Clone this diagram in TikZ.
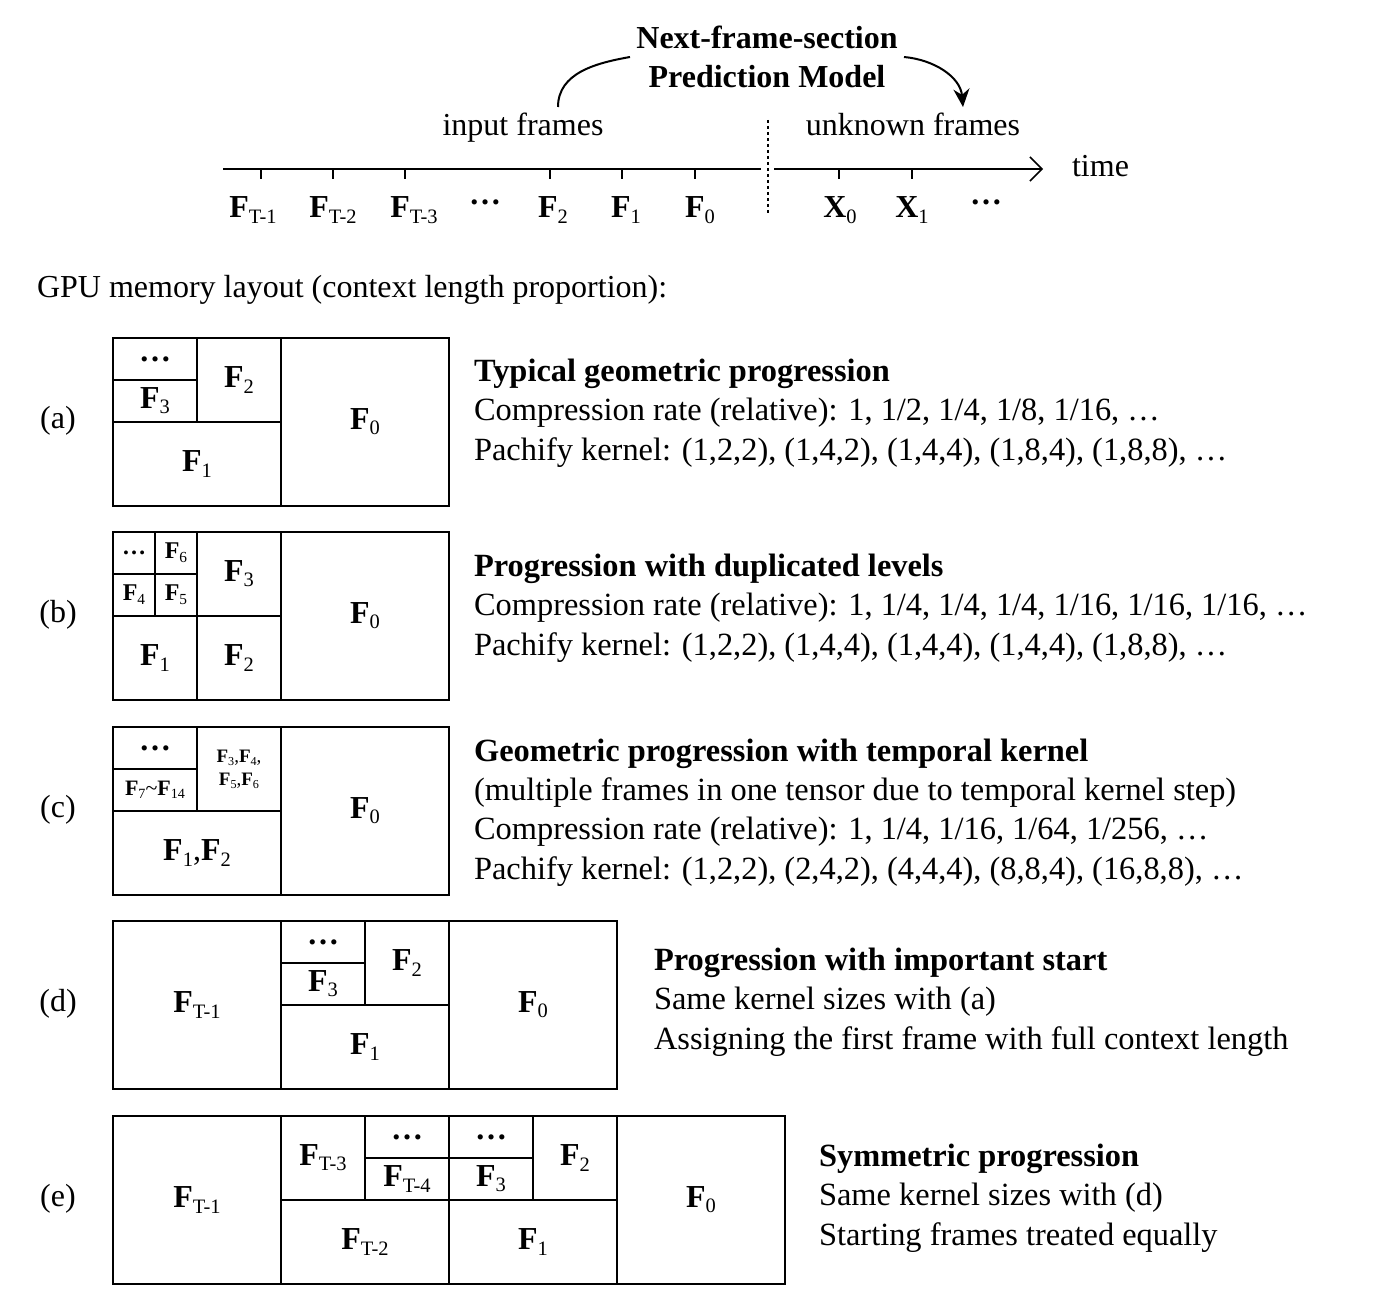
\documentclass[tikz,border=0pt]{standalone}
\usepackage{fontspec}
\setmainfont{Liberation Serif}
\usetikzlibrary{arrows.meta}
\newcommand{\fr}[2][F]{\textbf{#1}\raisebox{-0.16em}{\scalebox{0.64}{#2}}}

\begin{document}
\begin{tikzpicture}[x=0.5pt, y=-0.5pt,
  every node/.style={font=\fontsize{16}{19.5}\selectfont},
  cell/.style 2 args={draw, line width=1pt, anchor=north west, inner sep=0pt,
                      minimum width=#1*42pt, minimum height=#2*42pt},
  small/.style={font=\fontsize{12}{13}\selectfont},
  tiny/.style={font=\fontsize{9.5}{11.5}\selectfont},
  txt/.style={anchor=base west, align=left, font=\fontsize{16.2}{19.6}\selectfont},
  tick/.style={line width=0.75pt},
  arr/.style={line width=1pt, -{Stealth[length=9pt,width=8pt]}}
]
\useasboundingbox (0,0) rectangle (1380,1294);

% time axis
\coordinate (t0) at (223,169);
\coordinate (t1) at (761,169);
\coordinate (t2) at (774,169);
\coordinate (t3) at (1043,169);
\coordinate (d0) at (768,120);
\coordinate (d1) at (768,213);
\draw[tick] (t0) -- (t1);
\draw[tick, -{Straight Barb[length=6pt,width=12pt]}] (t2) -- (t3);
\draw[tick, dash pattern=on 1.5pt off 1.5pt] (d0) -- (d1);
\foreach \x in {261,333,405,550,622,695,839,912}
  \draw[tick] (\x,169) -- (\x,179);

\node[anchor=base] (ft1) at (253,218) {\fr{T-1}};
\node[anchor=base] (ft2) at (333,218) {\fr{T-2}};
\node[anchor=base] (ft3) at (414,218) {\fr{T-3}};
\node (fdots) at (485,202) {\textbf{…}};
\node[anchor=base] (f2) at (553,218) {\fr{2}};
\node[anchor=base] (f1) at (626,218) {\fr{1}};
\node[anchor=base] (f0) at (700,218) {\fr{0}};
\node[anchor=base] (x0) at (840,218) {\fr[X]{0}};
\node[anchor=base] (x1) at (912,218) {\fr[X]{1}};
\node (xdots) at (986,202) {\textbf{…}};
\node[anchor=base west] (time) at (1065,177) {time};
\node[anchor=base] (inp) at (523,136) {input frames};
\node[anchor=base] (unk) at (913,136) {unknown frames};

\node[font=\bfseries\fontsize{16}{19.5}\selectfont, align=center, inner sep=3pt]
  (model) at (767,57) {Next-frame-section\\Prediction Model};
\coordinate (c0) at (558,107);
\coordinate (c1) at (963,107);
\draw[line width=1pt] (c0) to[out=90,in=190] (model.west);
\draw[arr] (model.east) to[out=-5,in=95] (c1);

\node[anchor=base west] (gpu) at (30,298) {GPU memory layout (context length proportion):};

% (a)
\node (la) at (58,421) {(a)};
\node[cell={2}{2}]   (a0) at (280,337) {\fr{0}};
\node[cell={2}{1}]   (a1) at (112,421) {\fr{1}};
\node[cell={1}{1}]   (a2) at (196,337) {\fr{2}};
\node[cell={1}{0.5}] (a3) at (112,379) {\fr{3}};
\node[cell={1}{0.5}] (ad) at (112,337) {\textbf{…}};
\node[txt] (ta) at (467,460) {\textbf{Typical geometric progression}\\
  Compression rate (relative): 1, 1/2, 1/4, 1/8, 1/16, …\\
  Pachify kernel: (1,2,2), (1,4,2), (1,4,4), (1,8,4), (1,8,8), …};

% (b)
\node (lb) at (58,615) {(b)};
\node[cell={2}{2}]       (b0) at (280,531) {\fr{0}};
\node[cell={1}{1}]       (b1) at (112,615) {\fr{1}};
\node[cell={1}{1}]       (b2) at (196,615) {\fr{2}};
\node[cell={1}{1}]       (b3) at (196,531) {\fr{3}};
\node[cell={0.5}{0.5}, small] (bd) at (112,531) {\textbf{…}};
\node[cell={0.5}{0.5}, small] (b6) at (154,531) {\fr{6}};
\node[cell={0.5}{0.5}, small] (b4) at (112,573) {\fr{4}};
\node[cell={0.5}{0.5}, small] (b5) at (154,573) {\fr{5}};
\node[txt] (tb) at (467,655) {\textbf{Progression with duplicated levels}\\
  Compression rate (relative): 1, 1/4, 1/4, 1/4, 1/16, 1/16, 1/16, …\\
  Pachify kernel: (1,2,2), (1,4,4), (1,4,4), (1,4,4), (1,8,8), …};

% (c)
\node (lc) at (58,810) {(c)};
\node[cell={2}{2}]   (c0n) at (280,726) {\fr{0}};
\node[cell={2}{1}]   (c1n) at (112,810) {\fr{1},\fr{2}};
\node[cell={1}{1}, tiny, align=center] (c3n) at (196,726) {\fr{3},\fr{4},\\\fr{5},\fr{6}};
\node[cell={1}{0.5}, font=\fontsize{11}{12}\selectfont] (c7n) at (112,768) {\fr{7}\textasciitilde\fr{14}};
\node[cell={1}{0.5}] (cd) at (112,726) {\textbf{…}};
\node[txt] (tc) at (467,879) {\textbf{Geometric progression with temporal kernel}\\
  (multiple frames in one tensor due to temporal kernel step)\\
  Compression rate (relative): 1, 1/4, 1/16, 1/64, 1/256, …\\
  Pachify kernel: (1,2,2), (2,4,2), (4,4,4), (8,8,4), (16,8,8), …};

% (d)
\node (ld) at (58,1004) {(d)};
\node[cell={2}{2}]   (dt) at (112,920) {\fr{T-1}};
\node[cell={2}{2}]   (d0n) at (448,920) {\fr{0}};
\node[cell={2}{1}]   (d1n) at (280,1004) {\fr{1}};
\node[cell={1}{1}]   (d2n) at (364,920) {\fr{2}};
\node[cell={1}{0.5}] (d3n) at (280,962) {\fr{3}};
\node[cell={1}{0.5}] (dd) at (280,920) {\textbf{…}};
\node[txt] (td) at (647,1049) {\textbf{Progression with important start}\\
  Same kernel sizes with (a)\\
  Assigning the first frame with full context length};

% (e)
\node (le) at (58,1199) {(e)};
\node[cell={2}{2}]   (et1) at (112,1115) {\fr{T-1}};
\node[cell={2}{2}]   (e0) at (616,1115) {\fr{0}};
\node[cell={2}{1}]   (et2) at (280,1199) {\fr{T-2}};
\node[cell={2}{1}]   (e1) at (448,1199) {\fr{1}};
\node[cell={1}{1}]   (et3) at (280,1115) {\fr{T-3}};
\node[cell={1}{0.5}] (edl) at (364,1115) {\textbf{…}};
\node[cell={1}{0.5}] (et4) at (364,1157) {\fr{T-4}};
\node[cell={1}{0.5}] (edr) at (448,1115) {\textbf{…}};
\node[cell={1}{0.5}] (e3) at (448,1157) {\fr{3}};
\node[cell={1}{1}]   (e2) at (532,1115) {\fr{2}};
\node[txt] (te) at (812,1245) {\textbf{Symmetric progression}\\
  Same kernel sizes with (d)\\
  Starting frames treated equally};
\end{tikzpicture}
\end{document}
